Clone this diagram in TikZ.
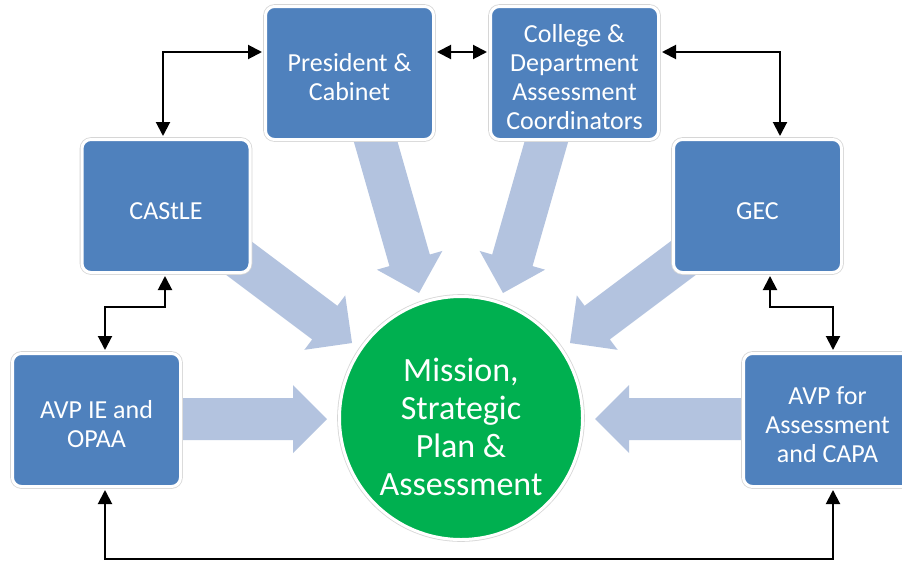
\documentclass[tikz,border=0pt]{standalone}
\usepackage{fontspec}
\setmainfont{Carlito}
\usetikzlibrary{arrows.meta,calc}
\definecolor{boxblue}{HTML}{4F81BD}
\definecolor{flowblue}{HTML}{B3C3DF}
\definecolor{hubgreen}{HTML}{00B050}
\pgfdeclarelayer{background}
\pgfsetlayers{background,main}

% broad block arrow from tail coordinate #2 to tip coordinate #3
\newcommand\fatarrow[3]{%
  \coordinate (#1h) at ($(#3)!34pt!(#2)$);
  \fill[flow] ($(#2)!21pt!90:(#3)$) -- ($(#1h)!21pt!90:(#3)$)
    -- ($(#1h)!34pt!90:(#3)$) -- (#3) -- ($(#1h)!34pt!-90:(#3)$)
    -- ($(#1h)!21pt!-90:(#3)$) -- ($(#2)!21pt!-90:(#3)$) -- cycle;
}
% invisible strut that sets the top of a label block
\newcommand\capstrut{\rule{0pt}{27pt}}

\begin{document}
\begin{tikzpicture}[x=1pt,y=-1pt,
  flow/.style={fill=flowblue},
  unit/.style={rectangle, rounded corners=9pt, fill=boxblue, draw=white,
    line width=3pt, preaction={draw=black!16, line width=4.6pt},
    minimum width=168pt, minimum height=133pt, inner sep=0pt,
    text=white, align=center, font=\fontsize{26}{29}\selectfont},
  hub/.style={circle, fill=hubgreen, draw=white, line width=3pt,
    preaction={draw=black!16, line width=4.6pt},
    minimum size=243pt, inner sep=0pt},
  hubtext/.style={text=white, align=center, font=\fontsize{34}{38}\selectfont},
  link/.style={draw=black, line width=2pt,
    {Triangle[length=14pt,width=14pt]}-{Triangle[length=14pt,width=14pt]}}]

\useasboundingbox (0,0) rectangle (902,560);
\clip (0,0) rectangle (902,560);

% units around the hub
\node[unit] (pres)    at (349.5,73)  {\capstrut President \&\\Cabinet};
\node[unit] (college) at (574.5,73)  {\capstrut College \&\\Department\\Assessment\\Coordinators};
\node[unit] (castle)  at (166,206)   {\capstrut CAStLE};
\node[unit] (gec)     at (757.5,206) {\capstrut GEC};
\node[unit] (avpie)   at (96.5,420)  {\capstrut AVP IE and\\OPAA};
\node[unit] (avpfor)  at (827.5,420) {\capstrut AVP for\\Assessment\\and CAPA};

% central hub
\node[hub] (hub) at (461,418) {};
\node[hubtext] (hublabel) at (461,427) {Mission,\\Strategic\\Plan \&\\Assessment};

% white page and broad arrows into the hub, behind the units
\begin{pgfonlayer}{background}
  \fill[white] (0,0) rectangle (902,560);
  \coordinate (castleT) at (224,247);   \coordinate (castleP) at (352,343);
  \coordinate (gecT)    at (698,247);   \coordinate (gecP)    at (570,343);
  \coordinate (presT)   at (366.6,110); \coordinate (presP)   at (419,293);
  \coordinate (collT)   at (555.4,110); \coordinate (collP)   at (503,293);
  \coordinate (avpieT)  at (170,419);   \coordinate (avpieP)  at (327,419);
  \coordinate (avpforT) at (752,419);   \coordinate (avpforP) at (595,419);
  \fatarrow{fa1}{castleT}{castleP}
  \fatarrow{fa2}{gecT}{gecP}
  \fatarrow{fa3}{presT}{presP}
  \fatarrow{fa4}{collT}{collP}
  \fatarrow{fa5}{avpieT}{avpieP}
  \fatarrow{fa6}{avpforT}{avpforP}
\end{pgfonlayer}

% two-way links between units
\draw[link, shorten <=2pt, shorten >=2pt]
  ([xshift=-3pt]castle.north) |- ([yshift=21pt]pres.west);
\draw[link, shorten <=2pt, shorten >=2pt]
  ([yshift=21pt]pres.east) -- ([yshift=21pt]college.west);
\draw[link, shorten <=2pt, shorten >=2pt]
  ([yshift=21pt]college.east) -| ([xshift=22.5pt]gec.north);
\draw[link, shorten <=2pt, shorten >=2pt]
  ([xshift=-1pt]castle.south) -- ++(0,32.5) -| ([xshift=8.5pt]avpie.north);
\draw[link, shorten <=2pt, shorten >=2pt]
  ([xshift=12.5pt]gec.south) -- ++(0,32.5) -| ([xshift=5.5pt]avpfor.north);
\draw[link, shorten <=2pt, shorten >=2pt]
  ([xshift=8.5pt]avpie.south) -- ++(0,70.5) -| ([xshift=5.5pt]avpfor.south);
\end{tikzpicture}
\end{document}
